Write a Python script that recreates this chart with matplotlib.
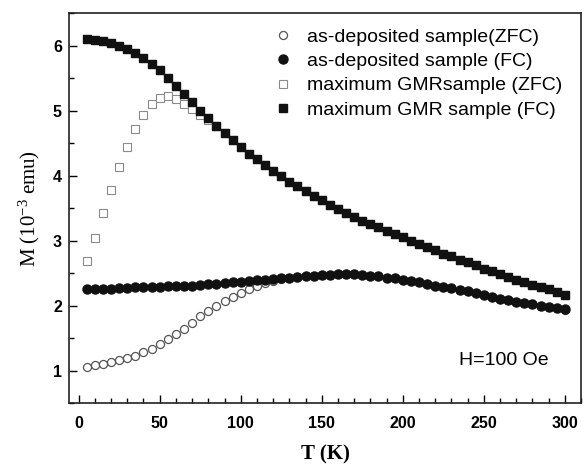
import matplotlib.pyplot as plt
from matplotlib.ticker import MultipleLocator

# temperature grid (K)
temps = [5, 10, 15, 20, 25, 30, 35, 40, 45, 50,
         55, 60, 65, 70, 75, 80, 85, 90, 95, 100,
         105, 110, 115, 120, 125, 130, 135, 140, 145, 150,
         155, 160, 165, 170, 175, 180, 185, 190, 195, 200,
         205, 210, 215, 220, 225, 230, 235, 240, 245, 250,
         255, 260, 265, 270, 275, 280, 285, 290, 295, 300]

# as-deposited sample, zero field cooled
asdep_zfc = [1.05, 1.08, 1.10, 1.13, 1.16, 1.19, 1.23, 1.28, 1.34, 1.41,
             1.49, 1.57, 1.64, 1.73, 1.84, 1.92, 2.00, 2.07, 2.14, 2.20,
             2.26, 2.31, 2.35, 2.38, 2.41, 2.43, 2.44, 2.45, 2.46, 2.47,
             2.47, 2.48, 2.48, 2.48, 2.47, 2.46, 2.45, 2.43, 2.42, 2.40,
             2.38, 2.36, 2.34, 2.31, 2.29, 2.27, 2.24, 2.22, 2.19, 2.16,
             2.14, 2.11, 2.09, 2.06, 2.04, 2.02, 2.00, 1.98, 1.96, 1.93]

# as-deposited sample, field cooled
asdep_fc = [2.25, 2.25, 2.26, 2.26, 2.27, 2.27, 2.28, 2.28, 2.29, 2.29,
            2.30, 2.30, 2.31, 2.31, 2.32, 2.33, 2.34, 2.35, 2.36, 2.37,
            2.38, 2.39, 2.40, 2.41, 2.42, 2.43, 2.44, 2.45, 2.46, 2.47,
            2.47, 2.48, 2.48, 2.48, 2.47, 2.46, 2.45, 2.43, 2.42, 2.40,
            2.38, 2.36, 2.34, 2.31, 2.29, 2.27, 2.24, 2.22, 2.19, 2.16,
            2.14, 2.11, 2.09, 2.06, 2.04, 2.02, 2.00, 1.98, 1.96, 1.95]

# maximum GMR sample, zero field cooled
gmr_zfc = [2.68, 3.04, 3.43, 3.78, 4.13, 4.44, 4.72, 4.94, 5.11, 5.19,
           5.22, 5.18, 5.11, 5.02, 4.93, 4.85, 4.76, 4.66, 4.55, 4.44,
           4.34, 4.25, 4.16, 4.07, 3.99, 3.91, 3.84, 3.76, 3.69, 3.62,
           3.55, 3.49, 3.43, 3.37, 3.31, 3.26, 3.21, 3.15, 3.10, 3.05,
           3.00, 2.95, 2.90, 2.85, 2.80, 2.76, 2.71, 2.67, 2.62, 2.57,
           2.53, 2.48, 2.44, 2.40, 2.36, 2.32, 2.29, 2.25, 2.21, 2.17]

# maximum GMR sample, field cooled
gmr_fc = [6.10, 6.09, 6.07, 6.04, 6.00, 5.95, 5.89, 5.81, 5.72, 5.62,
          5.50, 5.38, 5.26, 5.13, 5.00, 4.88, 4.77, 4.66, 4.55, 4.44,
          4.34, 4.25, 4.16, 4.07, 3.99, 3.91, 3.84, 3.76, 3.69, 3.62,
          3.55, 3.49, 3.43, 3.37, 3.31, 3.26, 3.21, 3.15, 3.10, 3.05,
          3.00, 2.95, 2.90, 2.85, 2.80, 2.76, 2.71, 2.67, 2.62, 2.57,
          2.53, 2.48, 2.44, 2.40, 2.36, 2.32, 2.29, 2.25, 2.21, 2.17]

plt.rcParams['font.family'] = ['Liberation Sans', 'DejaVu Sans']
plt.rcParams['mathtext.fontset'] = 'custom'
plt.rcParams['mathtext.rm'] = 'Liberation Serif'
plt.rcParams['mathtext.default'] = 'rm'

fig = plt.figure(figsize=(5.84, 4.71), dpi=100)
ax = fig.add_axes([0.118, 0.144, 0.877, 0.828])

ax.plot(temps, asdep_zfc, 'o', ms=5.8, mfc='white', mec='#555555', mew=0.9,
        linestyle='none', label='as-deposited sample(ZFC)')
ax.plot(temps, asdep_fc, 'o', ms=6.5, mfc='#111111', mec='#111111',
        linestyle='none', label='as-deposited sample (FC)')
ax.plot(temps, gmr_zfc, 's', ms=5.2, mfc='white', mec='#8a8a8a', mew=0.8,
        linestyle='none', label='maximum GMRsample (ZFC)')
ax.plot(temps, gmr_fc, 's', ms=6.0, mfc='#111111', mec='#111111',
        linestyle='none', label='maximum GMR sample (FC)')

ax.set_xlim(-6, 310)
ax.set_ylim(0.5, 6.5)
ax.xaxis.set_major_locator(MultipleLocator(50))
ax.xaxis.set_minor_locator(MultipleLocator(10))
ax.yaxis.set_major_locator(MultipleLocator(1))
ax.yaxis.set_minor_locator(MultipleLocator(0.5))
ax.tick_params(which='both', direction='in', top=False, right=False, width=1)
ax.tick_params(which='major', length=6)
ax.tick_params(which='minor', length=3.5)
ax.tick_params(axis='x', pad=9, labelsize=11.5)
ax.tick_params(axis='y', pad=5, labelsize=11.5)
for lab in ax.get_xticklabels() + ax.get_yticklabels():
    lab.set_fontweight('bold')
for sp in ax.spines.values():
    sp.set_linewidth(1.2)
    sp.set_color('#222222')

ax.set_xlabel('T (K)', family='Liberation Serif', fontsize=15,
              fontweight='bold', labelpad=10)
ax.set_ylabel('M (10$^{-3}$ emu)', family='Liberation Serif', fontsize=15,
              labelpad=8)

ax.legend(loc='upper left', bbox_to_anchor=(0.399, 0.962), frameon=False,
          fontsize=14, labelspacing=0.35, handletextpad=0.75,
          borderaxespad=0, borderpad=0, handlelength=1.0)

ax.text(0.936, 0.11, 'H=100 Oe', transform=ax.transAxes, ha='right',
        va='center', fontsize=14)

fig.savefig('out.png', dpi=100)
